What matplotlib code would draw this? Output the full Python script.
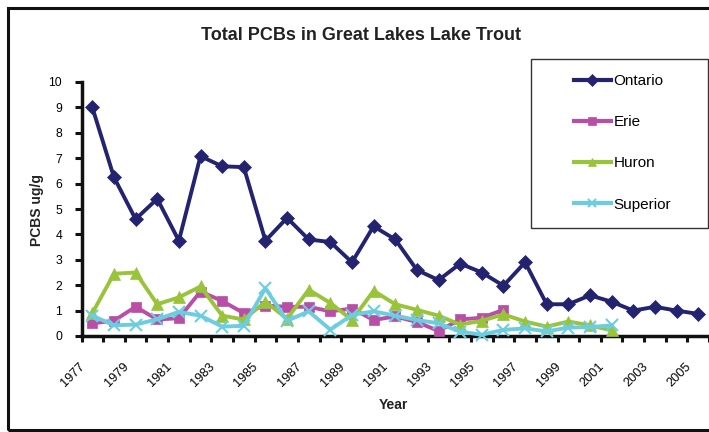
import matplotlib
matplotlib.use("Agg")
import matplotlib.pyplot as plt
from matplotlib.patches import Rectangle
import matplotlib.transforms as mtransforms

plt.rcParams['font.family'] = ['Liberation Sans', 'DejaVu Sans']

years = list(range(1977, 2006))
ontario = [9.0, 6.25, 4.6, 5.4, 3.75, 7.08, 6.68, 6.65, 3.75, 4.65, 3.8, 3.7, 2.9, 4.32,
           3.8, 2.6, 2.2, 2.85, 2.5, 1.98, 2.9, 1.25, 1.25, 1.6, 1.35, 1.0, 1.15, 1.0, 0.87]
erie = [0.5, 0.6, 1.15, 0.65, 0.7, 1.75, 1.38, 0.9, 1.2, 1.15, 1.15, 0.97, 1.08, 0.63,
        0.77, 0.55, 0.2, 0.65, 0.72, 1.03]
huron = [0.9, 2.45, 2.5, 1.25, 1.52, 1.95, 0.8, 0.65, 1.35, 0.68, 1.82, 1.3, 0.63, 1.78,
         1.25, 1.03, 0.8, 0.45, 0.6, 0.85, 0.57, 0.37, 0.57, 0.42, 0.22]
superior = [0.8, 0.42, 0.45, 0.66, 0.95, 0.8, 0.37, 0.4, 1.88, 0.6, 0.97, 0.25, 0.83, 0.97,
            0.8, 0.63, 0.5, 0.17, 0.05, 0.24, 0.3, 0.18, 0.33, 0.35, 0.42]
series = [("Ontario", ontario, "#23236f", "D", 7),
          ("Erie", erie, "#b94ea6", "s", 7),
          ("Huron", huron, "#99c43a", "^", 8),
          ("Superior", superior, "#6dcde0", "x", 9)]
tick_labels = [str(y) for y in years]

W, H = 709, 432
fig = plt.figure(figsize=(W / 100, H / 100), dpi=100)
ax = fig.add_axes([81.5 / W, 1 - 336 / H, (709 - 81.5) / W, (336 - 82) / H])

lines = []
for name, vals, col, mk, ms in series:
    xs = list(range(len(vals)))
    ln, = ax.plot(xs, vals, color=col, lw=2.8, marker=mk, markersize=ms,
                  markeredgecolor=col, markerfacecolor=col,
                  markeredgewidth=1.5 if mk == "x" else 0.5,
                  label=name, clip_on=False, zorder=3)
    lines.append(ln)

ax.set_xlim(-0.5, len(years) - 0.5)
ax.set_ylim(0, 10)
ax.set_yticks(range(0, 11))
ax.set_yticklabels([str(v) for v in range(0, 11)], fontsize=8.8)
ax.set_xticks([i - 0.5 for i in range(len(years) + 1)])
ax.set_xticklabels([])
ax.set_xticks(range(0, len(years), 2), minor=True)
ax.set_xticklabels(tick_labels[::2], minor=True, rotation=45, ha='right',
                   va='center', rotation_mode='anchor', fontsize=9.2)
ax.tick_params(axis='x', which='major', direction='out', length=4, width=2.2, color='#111111')
ax.tick_params(axis='x', which='minor', length=0, pad=21)
ax.tick_params(axis='y', direction='out', length=5, width=2.2, color='#111111', pad=9)
for lbl in ax.get_xticklabels(minor=True):
    lbl.set_transform(lbl.get_transform() + mtransforms.ScaledTranslation(-9 / 100, 0, fig.dpi_scale_trans))

for s in ['top', 'right']:
    ax.spines[s].set_visible(False)
for s in ['left', 'bottom']:
    ax.spines[s].set_linewidth(2.5)
    ax.spines[s].set_color('#111111')

fig.text(361 / W, 1 - 35 / H, "Total PCBs in Great Lakes Lake Trout", ha='center', va='center',
         fontsize=13, fontweight='bold', color='#222222')
fig.text(37 / W, 1 - 210 / H, "PCBS ug/g", rotation=90, ha='center', va='center',
         fontsize=10, fontweight='bold', color='#222222')
fig.text(393 / W, 1 - 405 / H, "Year", ha='center', va='center',
         fontsize=10, fontweight='bold', color='#222222')

# outer border
fig.patches.append(Rectangle((8 / W, 2 / H), 720 / W, (430 - 8) / H, transform=fig.transFigure,
                             fill=False, lw=2.2, edgecolor='#111111'))
# legend frame
fig.patches.append(Rectangle((531 / W, 1 - 228 / H), (708 - 531) / W, (228 - 59) / H,
                             transform=fig.transFigure, fill=True, facecolor='white',
                             lw=1.0, edgecolor='#333333', zorder=5))
leg = fig.legend(handles=lines, loc='upper left', bbox_to_anchor=(574 / W, 1 - 74 / H),
                 frameon=False, fontsize=11, labelspacing=1.78, handlelength=2.4,
                 handletextpad=0.2, borderpad=0, borderaxespad=0)
leg.set_zorder(6)
for h in leg.legend_handles:
    h.set_markersize(6)
    h.set_linewidth(3)

fig.savefig("out.png", dpi=100)
